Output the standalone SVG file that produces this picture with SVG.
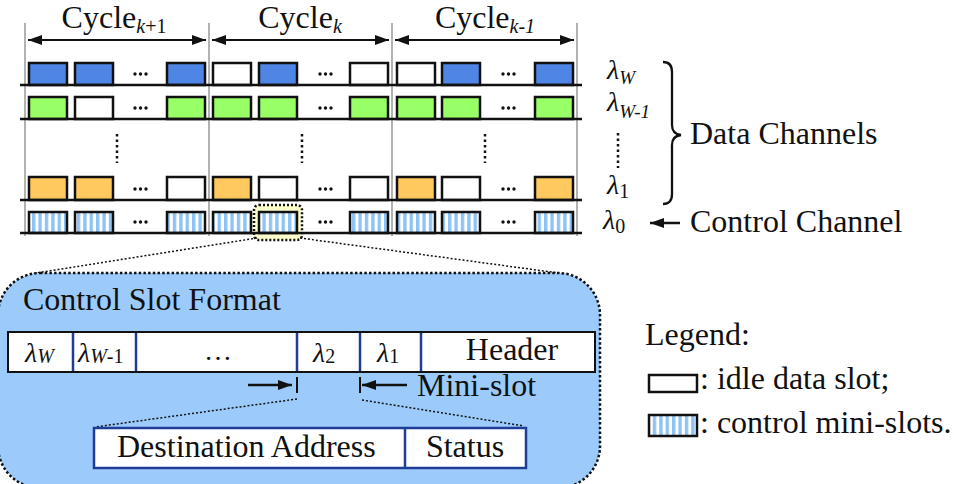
<svg xmlns="http://www.w3.org/2000/svg" width="954" height="484" viewBox="0 0 954 484" font-family="'Liberation Serif', 'DejaVu Serif', serif">
<defs>
<style>
text{fill:#111}
.slot{stroke:#111;stroke-width:2.5}
.b{fill:#4F86E6}.g{fill:#99FF66}.o{fill:#FFC960}.w{fill:#fff}.s{fill:url(#stripes)}
.base{stroke:#111;stroke-width:2.5}
.vl{stroke:#999;stroke-width:1.5}
.dot{fill:#111}
.vdots{stroke:#111;stroke-width:2.5;stroke-dasharray:2.5 3}
.thin{stroke:#111;stroke-width:1.5;stroke-dasharray:2 2;fill:none}
.blue{stroke:#1F3C96;stroke-width:2.5}
</style>
<pattern id="stripes" patternUnits="userSpaceOnUse" width="6.4" height="10">
<rect width="6.4" height="10" fill="#fff"/>
<rect width="3.4" height="10" fill="#8EC3F5"/>
</pattern>
<marker id="ah" viewBox="0 0 14 10" refX="14" refY="5" markerWidth="14" markerHeight="10" markerUnits="userSpaceOnUse" orient="auto-start-reverse">
<path d="M0,0 L14,5 L0,10 z" fill="#111"/>
</marker>
</defs>
<rect width="954" height="484" fill="#fff"/>

<g id="separators">
<line class="vl" x1="25" y1="23" x2="25" y2="236"/>
<line class="vl" x1="209" y1="23" x2="209" y2="236"/>
<line class="vl" x1="392" y1="23" x2="392" y2="236"/>
<line class="vl" x1="577" y1="23" x2="577" y2="236"/>
</g>

<g id="cycle-labels">
<text x="114" y="28" font-size="32" font-family="Liberation Serif, serif" text-anchor="middle">Cycle<tspan font-size="20" dy="5"><tspan font-style="italic">k</tspan>+1</tspan></text>
<text x="300" y="28" font-size="32" font-family="Liberation Serif, serif" text-anchor="middle">Cycle<tspan font-size="20" font-style="italic" dy="5">k</tspan></text>
<text x="485" y="28" font-size="32" font-family="Liberation Serif, serif" text-anchor="middle">Cycle<tspan font-size="20" font-style="italic" dy="5">k-1</tspan></text>
</g>

<g id="highlight">
<rect x="254" y="205" width="48" height="35" rx="5" fill="#FFFFCC" stroke="#111" stroke-width="2.5" stroke-dasharray="2 2"/>
</g>

<g id="row-W">
<rect class="slot b" x="29" y="63" width="38" height="22"/>
<rect class="slot b" x="75" y="63" width="38" height="22"/>
<rect class="slot b" x="167" y="63" width="38" height="22"/>
<rect class="slot w" x="213" y="63" width="38" height="22"/>
<rect class="slot b" x="259" y="63" width="38" height="22"/>
<rect class="slot w" x="350" y="63" width="38" height="22"/>
<rect class="slot w" x="397" y="63" width="38" height="22"/>
<rect class="slot b" x="442" y="63" width="38" height="22"/>
<rect class="slot b" x="535" y="63" width="38" height="22"/>
</g>
<g id="row-W1">
<rect class="slot g" x="29" y="97" width="38" height="22"/>
<rect class="slot w" x="75" y="97" width="38" height="22"/>
<rect class="slot g" x="167" y="97" width="38" height="22"/>
<rect class="slot g" x="213" y="97" width="38" height="22"/>
<rect class="slot g" x="259" y="97" width="38" height="22"/>
<rect class="slot g" x="350" y="97" width="38" height="22"/>
<rect class="slot g" x="397" y="97" width="38" height="22"/>
<rect class="slot g" x="442" y="97" width="38" height="22"/>
<rect class="slot g" x="535" y="97" width="38" height="22"/>
</g>
<g id="row-1">
<rect class="slot o" x="29" y="177" width="38" height="23"/>
<rect class="slot o" x="75" y="177" width="38" height="23"/>
<rect class="slot w" x="167" y="177" width="38" height="23"/>
<rect class="slot o" x="213" y="177" width="38" height="23"/>
<rect class="slot w" x="259" y="177" width="38" height="23"/>
<rect class="slot w" x="350" y="177" width="38" height="23"/>
<rect class="slot o" x="397" y="177" width="38" height="23"/>
<rect class="slot w" x="442" y="177" width="38" height="23"/>
<rect class="slot o" x="535" y="177" width="38" height="23"/>
</g>
<g id="row-0">
<rect class="slot s" x="29" y="212" width="38" height="21"/>
<rect class="slot s" x="75" y="212" width="38" height="21"/>
<rect class="slot s" x="167" y="212" width="38" height="21"/>
<rect class="slot s" x="213" y="212" width="38" height="21"/>
<rect class="slot s" x="259" y="212" width="38" height="21"/>
<rect class="slot s" x="350" y="212" width="38" height="21"/>
<rect class="slot s" x="397" y="212" width="38" height="21"/>
<rect class="slot s" x="442" y="212" width="38" height="21"/>
<rect class="slot s" x="535" y="212" width="38" height="21"/>
</g>

<g id="baselines">
<line class="base" x1="20" y1="85" x2="582" y2="85"/>
<line class="base" x1="20" y1="119" x2="582" y2="119"/>
<line class="base" x1="20" y1="200" x2="582" y2="200"/>
<line class="base" x1="20" y1="233" x2="582" y2="233"/>
</g>

<g id="ellipses">
<g class="dot">
<circle cx="135" cy="74" r="1.7"/><circle cx="140.5" cy="74" r="1.7"/><circle cx="146" cy="74" r="1.7"/>
<circle cx="320" cy="74" r="1.7"/><circle cx="325.5" cy="74" r="1.7"/><circle cx="331" cy="74" r="1.7"/>
<circle cx="503" cy="74" r="1.7"/><circle cx="508.5" cy="74" r="1.7"/><circle cx="514" cy="74" r="1.7"/>
<circle cx="135" cy="108" r="1.7"/><circle cx="140.5" cy="108" r="1.7"/><circle cx="146" cy="108" r="1.7"/>
<circle cx="320" cy="108" r="1.7"/><circle cx="325.5" cy="108" r="1.7"/><circle cx="331" cy="108" r="1.7"/>
<circle cx="503" cy="108" r="1.7"/><circle cx="508.5" cy="108" r="1.7"/><circle cx="514" cy="108" r="1.7"/>
<circle cx="135" cy="189" r="1.7"/><circle cx="140.5" cy="189" r="1.7"/><circle cx="146" cy="189" r="1.7"/>
<circle cx="320" cy="189" r="1.7"/><circle cx="325.5" cy="189" r="1.7"/><circle cx="331" cy="189" r="1.7"/>
<circle cx="503" cy="189" r="1.7"/><circle cx="508.5" cy="189" r="1.7"/><circle cx="514" cy="189" r="1.7"/>
<circle cx="135" cy="222" r="1.7"/><circle cx="140.5" cy="222" r="1.7"/><circle cx="146" cy="222" r="1.7"/>
<circle cx="320" cy="222" r="1.7"/><circle cx="325.5" cy="222" r="1.7"/><circle cx="331" cy="222" r="1.7"/>
<circle cx="503" cy="222" r="1.7"/><circle cx="508.5" cy="222" r="1.7"/><circle cx="514" cy="222" r="1.7"/>
</g>
<line class="vdots" x1="117" y1="134" x2="117" y2="163"/>
<line class="vdots" x1="302" y1="134" x2="302" y2="163"/>
<line class="vdots" x1="485" y1="134" x2="485" y2="163"/>
<line class="vdots" x1="618" y1="133" x2="618" y2="168"/>
</g>

<g id="channel-labels">
<text x="607" y="79" font-size="28" font-family="Liberation Serif, serif" font-style="italic">λ<tspan font-size="19" dy="5">W</tspan></text>
<text x="607" y="111" font-size="28" font-family="Liberation Serif, serif" font-style="italic">λ<tspan font-size="19" dy="7">W-1</tspan></text>
<text x="607" y="194" font-size="28" font-family="Liberation Serif, serif" font-style="italic">λ<tspan font-size="20" dy="4" font-style="normal">1</tspan></text>
<text x="603" y="229" font-size="28" font-family="Liberation Serif, serif" font-style="italic">λ<tspan font-size="20" dy="4" font-style="normal">0</tspan></text>
<path d="M663 62 Q672 62 672 72 L672 125 Q672 134 681 135 Q672 136 672 145 L672 194 Q672 204 663 204" fill="none" stroke="#111" stroke-width="2.3"/>
<text x="690" y="144" font-size="32" font-family="Liberation Serif, serif">Data Channels</text>
<text x="690" y="232" font-size="32" font-family="Liberation Serif, serif">Control Channel</text>
</g>

<g id="connectors">
<line x1="28" y1="40" x2="206" y2="40" stroke="#111" stroke-width="2" marker-start="url(#ah)" marker-end="url(#ah)"/>
<line x1="212" y1="40" x2="389" y2="40" stroke="#111" stroke-width="2" marker-start="url(#ah)" marker-end="url(#ah)"/>
<line x1="395" y1="40" x2="574" y2="40" stroke="#111" stroke-width="2" marker-start="url(#ah)" marker-end="url(#ah)"/>
<line x1="680" y1="223" x2="650" y2="223" stroke="#111" stroke-width="2.5" marker-end="url(#ah)"/>
<line class="thin" x1="257" y1="238" x2="30" y2="274"/>
<line class="thin" x1="300" y1="238" x2="566" y2="274"/>
</g>

<g id="control-slot-format">
<rect x="-2" y="273" width="602" height="215" rx="42" fill="#9CCBFB" stroke="#111" stroke-width="2.5" stroke-dasharray="2.5 2.2"/>
<text x="23" y="310" font-size="32" font-family="Liberation Serif, serif">Control Slot Format</text>
<rect x="8" y="332" width="587" height="40" fill="#fff" stroke="#111" stroke-width="2"/>
<line class="blue" x1="73" y1="333" x2="73" y2="371"/>
<line class="blue" x1="136" y1="333" x2="136" y2="371"/>
<line class="blue" x1="297" y1="333" x2="297" y2="371"/>
<line class="blue" x1="360" y1="333" x2="360" y2="371"/>
<line class="blue" x1="421" y1="333" x2="421" y2="371"/>
<text x="25" y="362" font-size="28" font-family="Liberation Serif, serif" font-style="italic">λ<tspan font-size="20" dy="1">W</tspan></text>
<text x="78" y="362" font-size="28" font-family="Liberation Serif, serif" font-style="italic">λ<tspan font-size="20" dy="1">W<tspan font-style="normal">-1</tspan></tspan></text>
<text x="218" y="360" font-size="28" font-family="Liberation Serif, serif" text-anchor="middle">…</text>
<text x="313" y="362" font-size="28" font-family="Liberation Serif, serif" font-style="italic">λ<tspan font-size="20" dy="1" font-style="normal">2</tspan></text>
<text x="377" y="362" font-size="28" font-family="Liberation Serif, serif" font-style="italic">λ<tspan font-size="20" dy="1" font-style="normal">1</tspan></text>
<text x="512" y="360" font-size="32" font-family="Liberation Serif, serif" text-anchor="middle">Header</text>
<line x1="248" y1="385" x2="292" y2="385" stroke="#111" stroke-width="2.5" marker-end="url(#ah)"/>
<line x1="297" y1="377" x2="297" y2="393" stroke="#111" stroke-width="2"/>
<line x1="407" y1="385" x2="362" y2="385" stroke="#111" stroke-width="2.5" marker-end="url(#ah)"/>
<line x1="360" y1="377" x2="360" y2="393" stroke="#111" stroke-width="2"/>
<text x="417" y="396" font-size="32" font-family="Liberation Serif, serif">Mini-slot</text>
<line class="thin" x1="297" y1="399" x2="95" y2="427"/>
<line class="thin" x1="362" y1="400" x2="524" y2="426"/>
<rect x="94" y="428" width="432" height="40" fill="#fff" stroke="#1F3C96" stroke-width="2.5"/>
<line class="blue" x1="405" y1="429" x2="405" y2="467"/>
<text x="117" y="457" font-size="32" font-family="Liberation Serif, serif">Destination Address</text>
<text x="465" y="457" font-size="32" font-family="Liberation Serif, serif" text-anchor="middle">Status</text>
</g>

<g id="legend">
<text x="645" y="345" font-size="32" font-family="Liberation Serif, serif">Legend:</text>
<rect class="slot w" x="649" y="375" width="48" height="17"/>
<text x="700" y="389" font-size="32" font-family="Liberation Serif, serif">: idle data slot;</text>
<rect class="slot s" x="649" y="415" width="48" height="21"/>
<text x="700" y="433" font-size="32" font-family="Liberation Serif, serif">: control mini-slots.</text>
</g>
</svg>
